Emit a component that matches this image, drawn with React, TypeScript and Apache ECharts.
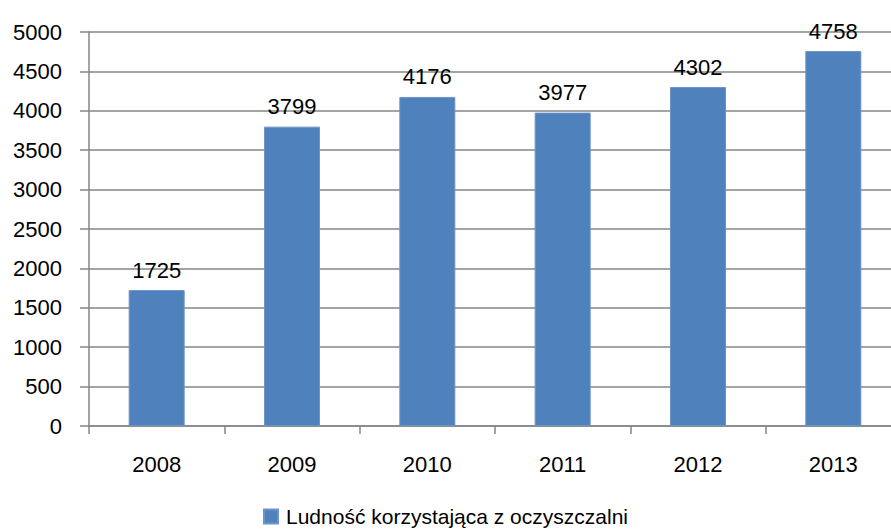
import React, { useEffect, useRef } from "react";
import * as echarts from "echarts";

const categories = ["2008", "2009", "2010", "2011", "2012", "2013"];
const values = [1725, 3799, 4176, 3977, 4302, 4758];
const seriesName = "Ludność korzystająca z oczyszczalni";

const FONT = "'Liberation Sans', Arial, sans-serif";

export default function App() {
  const ref = useRef<HTMLDivElement>(null);
  useEffect(() => {
    if (!ref.current) return;
    const chart = echarts.init(ref.current, null, { renderer: "svg" });
    chart.setOption({
      animation: false,
      backgroundColor: "#ffffff",
      textStyle: { fontFamily: FONT },
      grid: { left: 89, top: 32, bottom: 106, right: 0, containLabel: false },
      legend: {
        data: [seriesName],
        left: 263,
        top: 506,
        padding: 0,
        itemWidth: 14,
        itemHeight: 14,
        icon: "rect",
        textStyle: { fontFamily: FONT, fontSize: 21, color: "#000", padding: [0, 0, 0, 3] },
      },
      xAxis: {
        type: "category",
        data: categories,
        axisLine: { lineStyle: { color: "#868686", width: 1.5 } },
        axisTick: { show: true, length: 8, alignWithLabel: false, lineStyle: { color: "#868686", width: 1.5 } },
        axisLabel: { margin: 27, fontSize: 22, color: "#000", fontFamily: FONT },
        splitLine: { show: false },
      },
      yAxis: {
        type: "value",
        min: 0,
        max: 5000,
        interval: 500,
        axisLine: { show: true, lineStyle: { color: "#868686", width: 1.5 } },
        axisTick: { show: true, length: 9, lineStyle: { color: "#868686", width: 1.5 } },
        axisLabel: {
          margin: 27,
          fontSize: 22,
          color: "#000",
          fontFamily: FONT,
          formatter: (v: number) => String(v),
        },
        splitLine: { show: true, lineStyle: { color: "#868686", width: 1.5 } },
      },
      series: [
        {
          name: seriesName,
          type: "bar",
          data: values,
          barWidth: 56,
          itemStyle: { color: "#4F81BD", borderColor: "#6B94C8", borderWidth: 1 },
          label: {
            show: true,
            position: "top",
            distance: 9,
            fontSize: 22,
            color: "#000",
            fontFamily: FONT,
          },
        },
      ],
    });
    return () => chart.dispose();
  }, []);
  return (
    <div style={{ width: 891, height: 532, position: "absolute", left: 0, top: 0, overflow: "hidden", background: "#fff" }}>
      <div ref={ref} style={{ width: 901, height: 532, position: "absolute", left: 0, top: 0 }} />
    </div>
  );
}
